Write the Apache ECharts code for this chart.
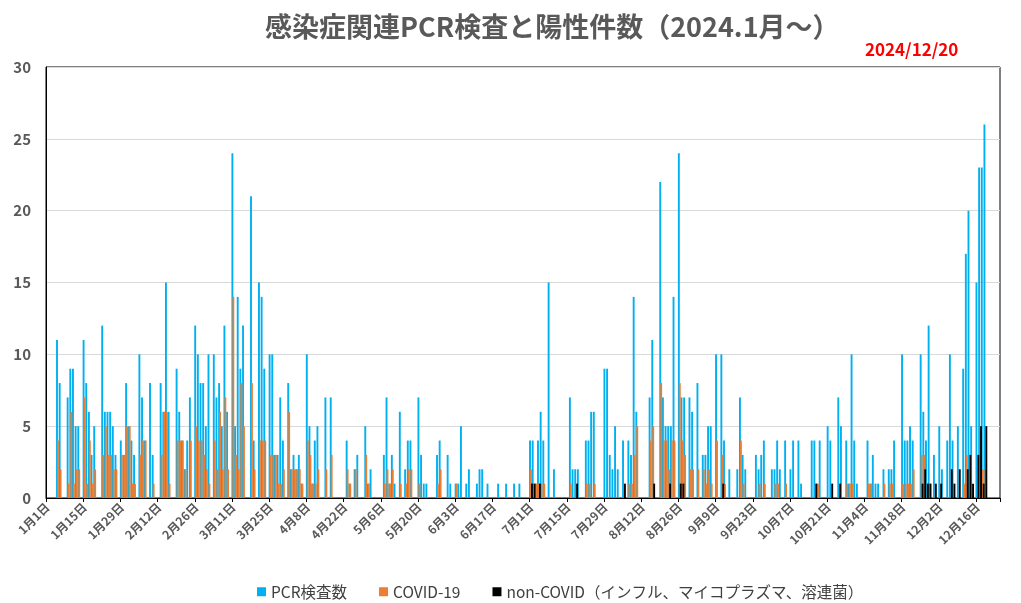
<!DOCTYPE html>
<html><head><meta charset="utf-8">
<script src="https://cdn.jsdelivr.net/npm/echarts/dist/echarts.min.js"></script>
<style>html,body{margin:0;padding:0;background:#fff}#c{width:1021px;height:603px}</style>
</head><body><div id="c"></div>
<script>
// days shown per month on the axis (2024, axis runs 1/1 .. 12/24)
const monthDays = [31,29,31,30,31,30,31,31,30,31,30,24];
const tickLabelEvery = 14;

// PCR検査数
const pcrJan = [0,0,0,0,11,8,0,0,7,9,9,5,5,0,11,8,6,3,5,0,0,12,6,6,6,5,3,0,4,3,8];
const pcrFeb = [5,4,3,0,10,7,4,0,8,3,0,0,8,6,15,6,0,0,9,6,4,2,4,7,0,12,10,8,8];
const pcrMar = [5,10,0,10,7,8,5,12,6,0,24,5,14,9,12,0,0,21,4,0,15,14,9,0,10,10,3,3,7,4,0];
const pcrApr = [8,2,3,2,3,1,0,10,5,1,4,5,0,0,7,0,7,0,0,0,0,0,4,1,0,2,3,0,0,5];
const pcrMay = [1,2,0,0,0,0,3,7,1,3,1,0,6,0,2,4,4,0,0,7,3,1,1,0,0,0,3,4,0,0,3];
const pcrJun = [1,0,1,1,5,0,1,2,0,0,1,2,2,0,1,0,0,0,1,0,0,1,0,0,1,0,1,0,0,0];
const pcrJul = [4,4,1,4,6,4,0,15,0,2,0,0,0,0,0,7,2,2,2,0,0,4,4,6,6,0,0,0,9,9,3];
const pcrAug = [2,5,2,0,4,0,4,3,14,6,0,0,0,0,7,11,0,0,22,7,5,5,5,14,0,24,7,7,0,7,6];
const pcrSep = [0,8,0,3,3,5,5,0,10,0,10,4,0,2,0,0,2,7,3,2,0,0,0,3,2,3,4,0,0,2];
const pcrOct = [2,4,2,0,4,0,2,4,0,4,1,0,0,0,4,4,1,4,0,0,5,4,0,0,7,5,0,4,1,10,4];
const pcrNov = [1,0,0,0,4,1,3,1,1,0,2,0,2,2,4,0,0,10,4,4,5,4,0,0,10,6,4,12,0,3];
const pcrDec = [0,5,2,0,4,10,4,0,5,0,9,17,20,5,0,15,23,23,26,0,0,0,0,0];

// COVID-19
const covJan = [0,0,0,0,4,2,0,0,1,6,1,2,2,0,7,1,4,1,2,0,0,3,5,3,3,2,2,0,3,3,5];
const covFeb = [5,1,1,0,3,4,4,0,0,1,0,0,3,6,6,1,0,0,4,4,4,2,0,4,0,5,4,4,3];
const covMar = [2,1,0,4,2,6,2,7,2,0,14,3,2,8,5,0,0,8,2,0,4,4,4,0,3,3,3,1,1,2,0];
const covApr = [6,2,2,2,2,1,0,4,3,1,1,2,0,0,2,0,3,0,0,0,0,0,2,1,0,2,0,0,0,3];
const covMay = [1,0,0,0,0,0,1,2,1,2,0,0,1,0,1,2,2,0,0,1,0,0,0,0,0,0,1,2,0,0,0];
const covJun = [0,0,1,0,0,0,0,0,0,0,0,0,0,0,0,0,0,0,0,0,0,0,0,0,0,0,0,0,0,0];
const covJul = [2,0,1,1,1,1,0,0,0,0,0,0,0,0,0,1,0,0,0,0,0,1,1,0,1,0,0,0,0,0,0];
const covAug = [0,0,0,0,0,0,1,1,3,5,0,0,0,0,4,5,0,0,8,4,4,2,4,4,0,8,4,3,0,2,2];
const covSep = [0,2,0,2,1,2,1,0,4,0,3,1,0,0,0,0,0,4,1,0,0,0,0,0,1,0,1,0,0,0];
const covOct = [1,1,0,0,1,0,0,0,0,0,0,0,0,0,0,0,1,0,0,0,0,0,0,0,0,0,0,1,1,1,0];
const covNov = [0,0,0,0,1,1,0,0,0,0,1,0,1,1,0,0,0,1,1,1,1,2,0,0,3,3,0,1,0,0];
const covDec = [0,0,0,0,0,0,0,0,0,0,1,3,0,0,0,0,0,2,2,0,0,0,0,0];

// non-COVID (インフル、マイコプラズマ、溶連菌)
const nonJan = [0,0,0,0,0,0,0,0,0,0,0,0,0,0,0,0,0,0,0,0,0,0,0,0,0,0,0,0,0,0,0];
const nonFeb = [0,0,0,0,0,0,0,0,0,0,0,0,0,0,0,0,0,0,0,0,0,0,0,0,0,0,0,0,0];
const nonMar = [0,0,0,0,0,0,0,0,0,0,0,0,0,0,0,0,0,0,0,0,0,0,0,0,0,0,0,0,0,0,0];
const nonApr = [0,0,0,0,0,0,0,0,0,0,0,0,0,0,0,0,0,0,0,0,0,0,0,0,0,0,0,0,0,0];
const nonMay = [0,0,0,0,0,0,0,0,0,0,0,0,0,0,0,0,0,0,0,0,0,0,0,0,0,0,0,0,0,0,0];
const nonJun = [0,0,0,0,0,0,0,0,0,0,0,0,0,0,0,0,0,0,0,0,0,0,0,0,0,0,0,0,0,0];
const nonJul = [1,1,0,1,0,0,0,0,0,0,0,0,0,0,0,0,0,1,0,0,0,0,0,0,0,0,0,0,0,0,0];
const nonAug = [0,0,0,0,1,0,0,0,0,0,0,0,0,0,0,1,0,0,0,0,0,1,0,0,0,1,1,0,0,0,0];
const nonSep = [0,0,0,0,0,0,0,0,0,0,1,0,0,0,0,0,0,0,0,0,0,0,0,0,0,0,0,0,0,0];
const nonOct = [0,0,0,0,0,0,0,0,0,0,0,0,0,0,0,1,0,0,0,0,0,1,0,0,1,0,0,0,0,0,0];
const nonNov = [0,0,0,0,0,0,0,0,0,0,0,0,0,0,0,0,0,0,0,0,0,0,0,0,1,2,1,1,0,1];
const nonDec = [0,1,0,0,0,2,1,0,2,0,0,2,3,1,0,3,5,1,5,0,0,0,0,0];

const pcr = [].concat(pcrJan,pcrFeb,pcrMar,pcrApr,pcrMay,pcrJun,pcrJul,pcrAug,pcrSep,pcrOct,pcrNov,pcrDec);
const cov = [].concat(covJan,covFeb,covMar,covApr,covMay,covJun,covJul,covAug,covSep,covOct,covNov,covDec);
const non = [].concat(nonJan,nonFeb,nonMar,nonApr,nonMay,nonJun,nonJul,nonAug,nonSep,nonOct,nonNov,nonDec);

const categories = [];
monthDays.forEach((n, m) => { for (let d = 1; d <= n; d++) categories.push((m + 1) + '月' + d + '日'); });

const FONT = '"Noto Sans CJK JP", "Noto Sans", sans-serif';
const chart = echarts.init(document.getElementById('c'), null, {renderer: 'canvas'});
chart.setOption({
  animation: false,
  backgroundColor: '#ffffff',
  textStyle: {fontFamily: FONT},
  title: [
    {text: '感染症関連PCR検査と陽性件数（2024.1月～）', left: 260, top: 8,
     textStyle: {fontSize: 27, fontWeight: 'bold', color: '#595959', fontFamily: FONT}},
    {text: '2024/12/20', left: 860, top: 36,
     textStyle: {fontSize: 17, fontWeight: 'bold', color: '#ff0000', fontFamily: FONT}}
  ],
  legend: {
    left: 252, top: 579, itemWidth: 9, itemHeight: 9, itemGap: 32,
    icon: 'rect',
    textStyle: {fontSize: 15.5, color: '#404040', fontFamily: FONT},
    data: ['PCR検査数', 'COVID-19', 'non-COVID（インフル、マイコプラズマ、溶連菌）']
  },
  grid: {left: 46, right: 21, top: 67, bottom: 105, show: true, borderColor: '#000', borderWidth: 1, containLabel: false},
  xAxis: {
    type: 'category', data: categories, boundaryGap: true,
    axisLine: {lineStyle: {color: '#000', width: 1}},
    axisTick: {show: true, interval: tickLabelEvery - 1, length: 4, lineStyle: {color: '#000'}},
    axisLabel: {interval: tickLabelEvery - 1, rotate: 45, fontSize: 12, fontWeight: 'bold', color: '#595959', margin: 7, fontFamily: FONT},
    splitLine: {show: false}
  },
  yAxis: {
    type: 'value', min: 0, max: 30, interval: 5,
    axisLine: {show: true, lineStyle: {color: '#000', width: 1}},
    axisTick: {show: false},
    axisLabel: {fontSize: 15, fontWeight: 'bold', color: '#595959', margin: 15, fontFamily: FONT},
    splitLine: {lineStyle: {color: '#d9d9d9', width: 1}}
  },
  series: [
    {name: 'PCR検査数', type: 'bar', data: pcr, barWidth: 1.9, barGap: '-50%', itemStyle: {color: '#00b0f0'}},
    {name: 'COVID-19', type: 'bar', data: cov, barWidth: 1.9, barGap: '-50%', itemStyle: {color: '#ed7d31'}},
    {name: 'non-COVID（インフル、マイコプラズマ、溶連菌）', type: 'bar', data: non, barWidth: 1.9, barGap: '-50%', itemStyle: {color: '#000000'}}
  ]
});
</script></body></html>
